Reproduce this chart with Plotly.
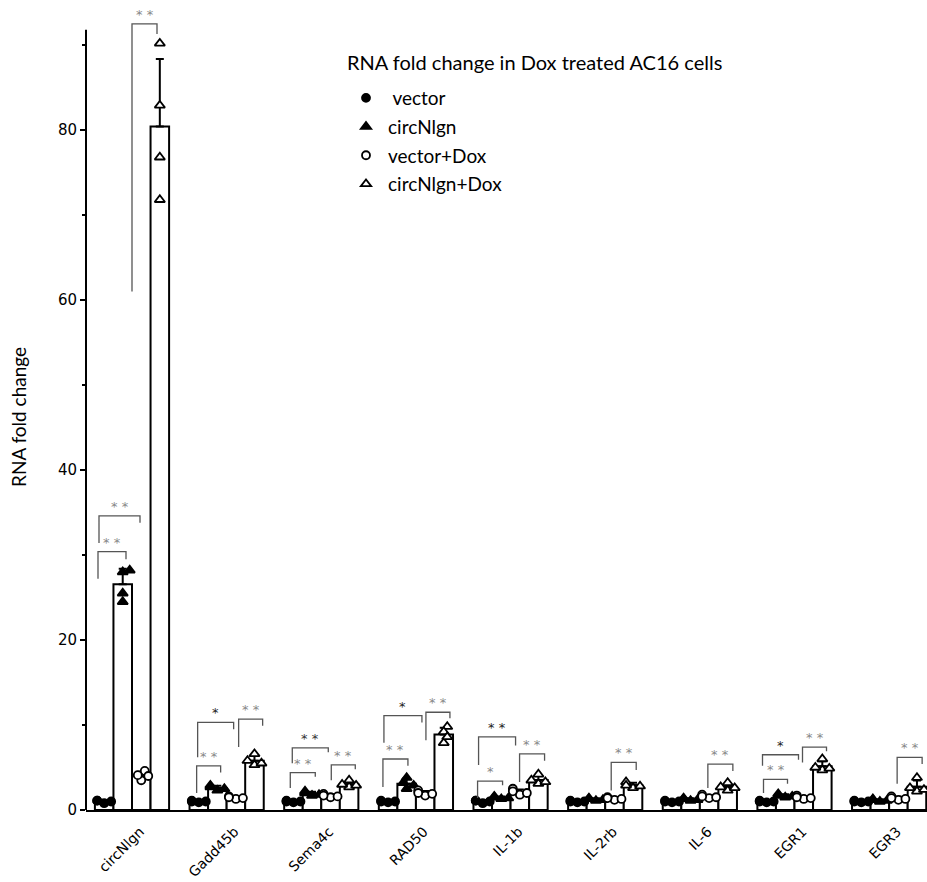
import numpy as np
import plotly.graph_objects as go

# ---------------- data ----------------
genes = ["circNlgn", "Gadd45b", "Sema4c", "RAD50", "IL-1b", "IL-2rb", "IL-6", "EGR1", "EGR3"]
groups = ["vector", "circNlgn", "vector+Dox", "circNlgn+Dox"]

vector_vals = [
    [0.8, 1.1, 1.0, 1.1],
    [0.9, 1.1, 1.0, 1.0],
    [0.9, 1.0, 1.1, 1.0],
    [0.9, 1.1, 1.0, 1.0],
    [0.8, 1.1, 1.0, 1.1],
    [0.9, 1.1, 1.0, 1.0],
    [0.9, 1.1, 1.0, 1.0],
    [0.9, 1.1, 1.0, 1.0],
    [0.9, 1.1, 1.0, 1.0],
]
circ_vals = [
    [28.2, 28.0, 25.5, 24.5],
    [2.3, 2.9, 2.7, 2.5],
    [1.7, 2.2, 2.0, 1.8],
    [2.5, 3.8, 3.2, 2.9],
    [1.3, 1.6, 1.5, 1.4],
    [1.1, 1.4, 1.2, 1.3],
    [1.1, 1.4, 1.3, 1.2],
    [1.5, 1.9, 1.7, 1.6],
    [1.0, 1.3, 1.1, 1.2],
]
vector_dox_vals = [
    [4.6, 3.5, 4.1, 4.0],
    [1.3, 1.6, 1.5, 1.4],
    [1.5, 1.9, 1.7, 1.6],
    [1.7, 2.3, 2.0, 1.9],
    [1.8, 2.5, 2.2, 2.0],
    [1.2, 1.5, 1.4, 1.3],
    [1.4, 1.8, 1.6, 1.5],
    [1.3, 1.7, 1.5, 1.4],
    [1.2, 1.6, 1.4, 1.3],
]
circ_dox_vals = [
    [90.2, 82.9, 76.8, 71.8],
    [5.3, 6.6, 5.8, 5.5],
    [2.7, 3.5, 3.0, 2.9],
    [7.9, 9.8, 9.2, 8.6],
    [3.1, 4.2, 3.5, 3.3],
    [2.6, 3.3, 2.9, 2.8],
    [2.3, 3.2, 2.7, 2.6],
    [4.7, 6.0, 5.0, 4.9],
    [2.2, 3.8, 2.6, 2.4],
]

y_ticks = [0, 20, 40, 60, 80]

# significance brackets: gene index, left/right end (px from group centre),
# top, left-leg bottom, right-leg bottom (data units), label, label colour
brackets = [
    (0, -34, -6, 30.4, 27.2, 29.5, "* *", "#888888"),
    (0, -33, 8, 34.6, 31.4, 33.8, "* *", "#888888"),
    (0, 0, 25, 92.5, 61.0, 91.3, "* *", "#888888"),
    (1, -30, -6, 5.2, 2.0, 4.4, "* *", "#888888"),
    (1, -29, 7, 10.3, 6.2, 9.5, "*", "#222222"),
    (1, 12, 36, 10.7, 7.4, 9.9, "* *", "#888888"),
    (2, -31, -6, 4.4, 2.6, 3.9, "* *", "#888888"),
    (2, -29, 7, 7.3, 5.5, 6.8, "* *", "#333333"),
    (2, 10, 34, 5.3, 3.5, 4.8, "* *", "#888888"),
    (3, -33, -8, 6.0, 2.7, 5.2, "* *", "#888888"),
    (3, -32, 6, 11.1, 7.9, 10.3, "*", "#222222"),
    (3, 10, 34, 11.5, 8.2, 10.8, "* *", "#888888"),
    (4, -33, -8, 3.4, 1.4, 2.9, "*", "#888888"),
    (4, -32, 5, 8.6, 5.3, 7.6, "* *", "#222222"),
    (4, 9, 34, 6.6, 3.3, 5.8, "* *", "#888888"),
    (5, 6, 31, 5.6, 2.3, 4.7, "* *", "#888888"),
    (6, 8, 33, 5.4, 2.6, 4.6, "* *", "#888888"),
    (7, -31, -7, 3.6, 2.0, 3.1, "* *", "#888888"),
    (7, -32, 4, 6.5, 5.2, 5.9, "*", "#222222"),
    (7, 8, 32, 7.4, 5.6, 6.9, "* *", "#888888"),
    (8, 8, 33, 6.2, 3.1, 5.4, "* *", "#888888"),
]

# ---------------- layout geometry ----------------
W, H = 927, 882
ML, MR, MT, MB = 86, 0, 0, 72
X_RANGE = [-0.486, 8.40]
Y_RANGE = [0, 95.3]
AXIS_TOP = 91.8
PLOT_W = W - ML - MR
PLOT_H = H - MT - MB
px_x = PLOT_W / (X_RANGE[1] - X_RANGE[0])   # px per category unit
px_y = PLOT_H / (Y_RANGE[1] - Y_RANGE[0])   # px per y unit

bar_w = 0.196
offsets = [-1.5 * bar_w, -0.5 * bar_w, 0.5 * bar_w, 1.5 * bar_w]

all_vals = [vector_vals, circ_vals, vector_dox_vals, circ_dox_vals]
symbols = ["circle", "triangle-up", "circle", "triangle-up"]
fills = ["black", "black", "white", "white"]
sizes = [8, 9, 8, 9]
name_labels = [" vector", "circNlgn", "vector+Dox", "circNlgn+Dox"]


def beeswarm(vals, diam=6.0, step=3.5):
    order = np.argsort(vals)
    placed = []
    dx = [0.0] * len(vals)
    for idx in order:
        yv = vals[idx] * px_y
        best = 0.0
        for k in [0, 1, -1, 2, -2]:
            xo = k * step
            best = xo
            if all((xo - px) ** 2 + (yv - py) ** 2 >= diam ** 2 for px, py in placed):
                break
        placed.append((best, yv))
        dx[idx] = best / px_x
    return dx


fig = go.Figure()

for g in range(4):
    vals = all_vals[g]
    xs = [i + offsets[g] for i in range(len(genes))]
    means = [float(np.mean(v)) for v in vals]
    sds = [float(np.std(v, ddof=1)) for v in vals]
    fig.add_trace(go.Bar(
        x=xs, y=means, width=bar_w,
        marker=dict(color="white", line=dict(color="black", width=2)),
        error_y=dict(type="data", symmetric=False, array=sds, arrayminus=[0] * len(sds),
                     color="black", thickness=2, width=4),
        showlegend=False, hoverinfo="skip",
    ))

for g in range(4):
    vals = all_vals[g]
    px_list, py_list = [], []
    for i, v in enumerate(vals):
        dxs = beeswarm(v)
        for val, d in zip(v, dxs):
            px_list.append(i + offsets[g] + d)
            py_list.append(val)
    fig.add_trace(go.Scatter(
        x=px_list, y=py_list, mode="markers", name=name_labels[g],
        legendgroup=groups[g],
        marker=dict(symbol=symbols[g], size=sizes[g], color=fills[g],
                    line=dict(color="black", width=1.8)),
        cliponaxis=False,
    ))

shapes = []
annotations = []
for gi, x1, x2, top, lb, rb, lab, col in brackets:
    xa = gi + x1 / px_x
    xb = gi + x2 / px_x
    path = f"M {xa} {lb} L {xa} {top} L {xb} {top} L {xb} {rb}"
    shapes.append(dict(type="path", path=path, xref="x", yref="y",
                       line=dict(color="#555555", width=1.3), layer="above"))
    annotations.append(dict(x=(xa + xb) / 2, y=top, xref="x", yref="y", text=lab,
                            showarrow=False, yanchor="bottom", yshift=0,
                            font=dict(family="DejaVu Sans", size=13, color=col)))

# y axis line (stops at top of scale)
shapes.append(dict(type="line", xref="paper", yref="y", x0=0, x1=0, y0=0, y1=AXIS_TOP,
                   line=dict(color="black", width=2)))

# y axis title
annotations.append(dict(x=0, y=0, xref="paper", yref="paper", xshift=-68, yshift=PLOT_H - 417,
                        text="RNA fold change", textangle=-90, showarrow=False,
                        xanchor="center", yanchor="middle",
                        font=dict(family="Lato", size=19, color="black")))
# legend heading
annotations.append(dict(x=(345 - ML) / PLOT_W, y=1 - 62 / PLOT_H, xref="paper", yref="paper",
                        text="RNA fold change in Dox treated AC16 cells", showarrow=False,
                        xanchor="left", yanchor="middle",
                        font=dict(family="Lato", size=20, color="black")))

fig.update_layout(
    width=W, height=H,
    margin=dict(l=ML, r=MR, t=MT, b=MB, pad=0, autoexpand=False),
    plot_bgcolor="white", paper_bgcolor="white",
    barmode="overlay",
    shapes=shapes, annotations=annotations,
    font=dict(family="Lato", color="black"),
    legend=dict(
        x=(344 - ML) / PLOT_W, y=1 - 79 / PLOT_H,
        xanchor="left", yanchor="top",
        font=dict(family="Lato", size=19, color="black"),
        traceorder="grouped", tracegroupgap=1, itemwidth=34,
        bgcolor="rgba(0,0,0,0)",
    ),
    xaxis=dict(
        range=X_RANGE, tickmode="array", tickvals=list(range(len(genes))), ticktext=genes,
        tickangle=-45, showline=True, linecolor="black", linewidth=2, ticks="",
        showgrid=False, zeroline=False, automargin=False,
        ticklabelstandoff=6, ticklabelshift=8,
        tickfont=dict(family="DejaVu Sans", size=14, color="black"),
    ),
    yaxis=dict(
        range=Y_RANGE, tickmode="array", tickvals=y_ticks, ticks="outside", ticklen=5,
        tickwidth=1.5, tickcolor="black", showline=False, showgrid=False, zeroline=False,
        automargin=False,
        minor=dict(tickmode="linear", tick0=0, dtick=10, ticks="outside", ticklen=3,
                   tickwidth=1.5, tickcolor="black"),
        tickfont=dict(family="DejaVu Sans", size=15, color="black"),
    ),
)

fig.write_html("out.html", config={"displayModeBar": False},
               post_script="document.body.style.margin='0';document.body.style.overflow='hidden';")
